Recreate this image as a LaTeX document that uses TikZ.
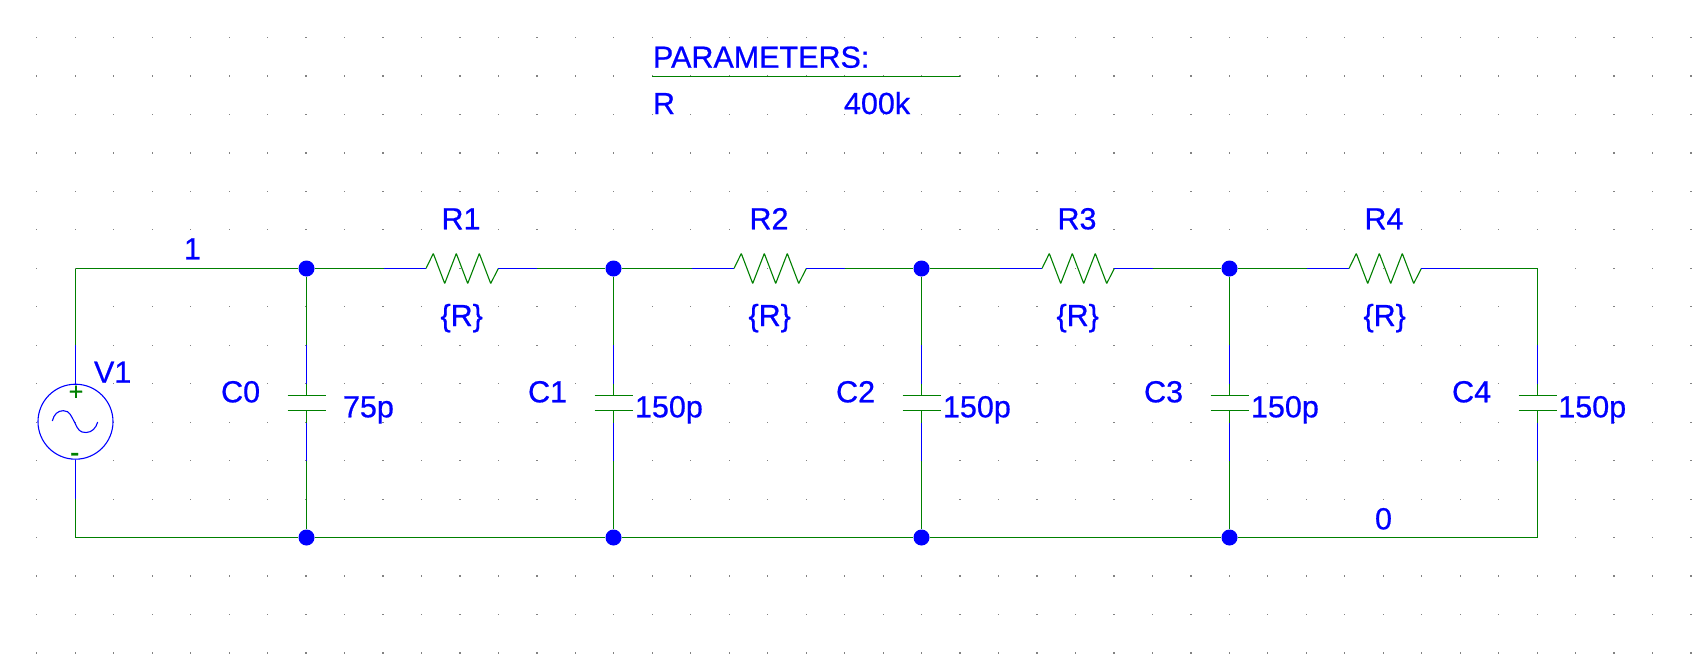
\documentclass[tikz,border=0pt]{standalone}
\usepackage{fontspec}
\setmainfont{Liberation Sans}[BoldFont={Liberation Sans},BoldFeatures={FakeBold=0.6}]
\definecolor{wireblue}{RGB}{0,0,255}
\definecolor{wiregreen}{RGB}{0,128,0}
\definecolor{griddot}{RGB}{130,130,130}
\tikzset{
  gwire/.style={draw=wiregreen,line width=1pt},
  bwire/.style={draw=wireblue,line width=1pt},
  thinblue/.style={draw=wireblue,line width=1.1pt},
  thingreen/.style={draw=wiregreen,line width=1.1pt},
  junction/.style={circle,fill=wireblue,inner sep=0pt,minimum size=16pt},
  lab/.style={text=wireblue,anchor=base west,inner sep=0pt,outer sep=0pt,font=\fontsize{30.5}{34}\selectfont\bfseries},
}
\begin{document}
\begin{tikzpicture}[x=1pt,y=-1pt]
\useasboundingbox[fill=white] (0,0) rectangle (1692,654);
% grid
\foreach \k in {0,...,43}{
  \foreach \m in {0,...,16}{
    \fill[griddot] ({36.8+38.47*\k-0.6},{37.5+38.47*\m-0.6}) rectangle ++(1.2,1.2);
  }
}
% corners
\coordinate (TL) at (75.5,268.5);
\coordinate (BL) at (75.5,537.5);
\coordinate (TR) at (1537.5,268.5);
\coordinate (BR) at (1537.5,537.5);
% source
\node[circle,thinblue,inner sep=0pt,minimum size=75pt] (VS) at (75.5,421.7) {};
\coordinate (VSa) at (75.5,345);
\coordinate (VSb) at (75.5,498.5);
\draw[gwire] (TL) -- (VSa);
\draw[bwire] (VSa) -- (VS.north);
\draw[bwire] (VS.south) -- (VSb);
\draw[gwire] (VSb) -- (BL);
\draw[thinblue] (52.3,421) .. controls (54,414) and (58,410.7) .. (63.3,410.7)
  .. controls (70,410.7) and (71,416) .. (75,423)
  .. controls (78,430) and (80,432.5) .. (86,432.5)
  .. controls (92,432.5) and (96,428) .. (97.7,422);
\node[text=wiregreen,anchor=base,inner sep=0pt,font=\fontsize{25}{30}\selectfont\bfseries] (VP) at (76,400) {+};
\node[text=wiregreen,anchor=base,inner sep=0pt,font=\fontsize{28}{30}\selectfont\bfseries] (VM) at (74.7,461.6) {-};
% junctions
\foreach \i/\x in {0/306.5,1/613.5,2/921.5,3/1229.5}{
  \node[junction] (J\i) at (\x,268.5) {};
  \node[junction] (B\i) at (\x,537.5) {};
}
\draw[gwire] (TL) -- (J0);
\draw[gwire] (BL) -- (B0);
\draw[gwire] (B0) -- (B1);
\draw[gwire] (B1) -- (B2);
\draw[gwire] (B2) -- (B3);
\draw[gwire] (B3) -- (BR);
% resistors
\foreach \i/\a/\b/\o in {1/J0/J1/0,2/J1/J2/308,3/J2/J3/616,4/J3/TR/923}{
  \begin{scope}[xshift=\o pt]
    \coordinate (R\i p) at (383.5,268.5);
    \coordinate (R\i q) at (537,268.5);
    \coordinate (R\i s) at (426,268.5);
    \coordinate (R\i e) at (498.3,268.5);
    \node[lab] (R\i name) at (441.5,229.3) {R\i};
    \node[lab] (R\i val) at (440.5,326) {\{R\}};
  \end{scope}
  \draw[gwire] (\a) -- (R\i p);
  \draw[bwire] (R\i p) -- (R\i s);
  \draw[thingreen,line join=bevel] (R\i s) -- ++(7.3,-15) -- ++(11.4,30) -- ++(11.6,-30) -- ++(11.4,30) -- ++(11.6,-30) -- ++(11.4,30) -- (R\i e);
  \draw[bwire] (R\i e) -- (R\i q);
  \draw[gwire] (R\i q) -- (\b);
}
% capacitors
\foreach \i/\a/\b/\x/\v/\vx in {0/J0/B0/306.5/75p/343,1/J1/B1/613.5/150p/635,2/J2/B2/921.5/150p/943,3/J3/B3/1229.5/150p/1251,4/TR/BR/1537.5/150p/1558.3}{
  \coordinate (C\i a) at (\x,345);
  \coordinate (C\i b) at (\x,383.5);
  \coordinate (C\i t) at (\x,395.5);
  \coordinate (C\i u) at (\x,410.5);
  \coordinate (C\i c) at (\x,422.7);
  \coordinate (C\i d) at (\x,461);
  \draw[gwire] (\a) -- (C\i a);
  \draw[bwire] (C\i a) -- (C\i b);
  \draw[gwire] (C\i b) -- (C\i t);
  \draw[gwire] ([xshift=-19pt]C\i t) -- ([xshift=19pt]C\i t);
  \draw[gwire] ([xshift=-19pt]C\i u) -- ([xshift=19pt]C\i u);
  \draw[gwire] (C\i u) -- (C\i c);
  \draw[bwire] (C\i c) -- (C\i d);
  \draw[gwire] (C\i d) -- (\b);
  \node[lab] (C\i name) at ({\x-85.4},402.3) {C\i};
  \node[lab] (C\i val) at (\vx,417.3) {\v};
}
% labels
\node[lab] (N1) at (184,259.3) {1};
\node[lab] (N0) at (1375,529.3) {0};
\node[lab] (V1) at (94,382.7) {V1};
% parameters
\node[lab] (PT) at (653,67.7) {PARAMETERS:};
\coordinate (PL) at (652,76.5);
\coordinate (PR) at (960,76.5);
\draw[gwire] (PL) -- (PR);
\node[lab] (PN) at (653,114) {R};
\node[lab] (PV) at (844,114) {400k};
\end{tikzpicture}
\end{document}
